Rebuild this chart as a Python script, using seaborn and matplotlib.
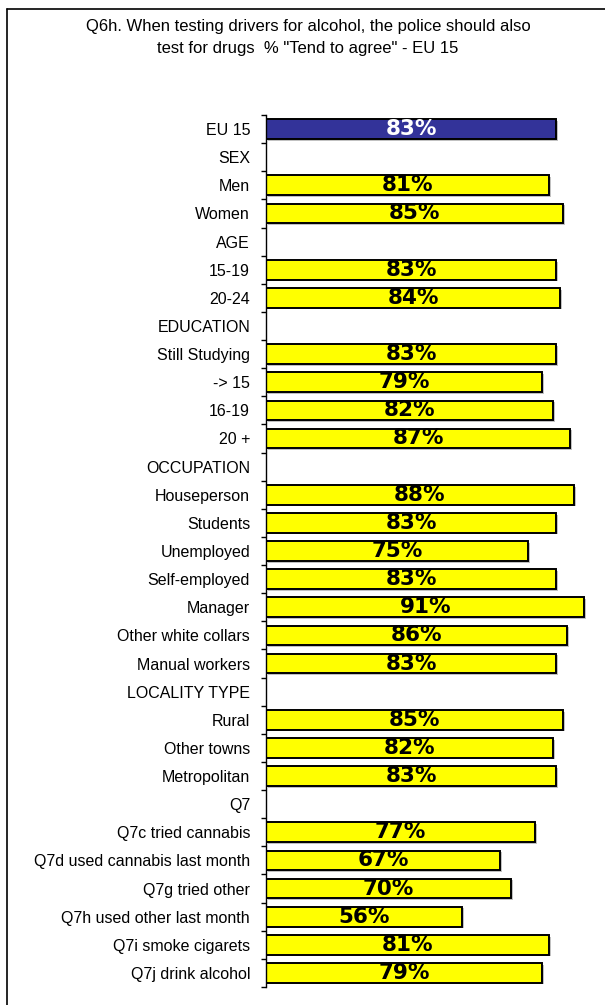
import numpy as np
import pandas as pd
import matplotlib
matplotlib.use("Agg")
import matplotlib.pyplot as plt
import matplotlib.patheffects as pe
from matplotlib.lines import Line2D
import seaborn as sns

categories = ["EU 15", "SEX", "Men", "Women", "AGE", "15-19", "20-24",
              "EDUCATION", "Still Studying", "-> 15", "16-19", "20 +",
              "OCCUPATION", "Houseperson", "Students", "Unemployed",
              "Self-employed", "Manager", "Other white collars",
              "Manual workers", "LOCALITY TYPE", "Rural", "Other towns",
              "Metropolitan", "Q7", "Q7c tried cannabis",
              "Q7d used cannabis last month", "Q7g tried other",
              "Q7h used other last month", "Q7i smoke cigarets",
              "Q7j drink alcohol"]
values = [83, np.nan, 81, 85, np.nan, 83, 84,
          np.nan, 83, 79, 82, 87,
          np.nan, 88, 83, 75, 83, 91, 86, 83,
          np.nan, 85, 82, 83,
          np.nan, 77, 67, 70, 56, 81, 79]
groups = ["total"] + ["sub"] * (len(categories) - 1)
title_lines = ["Q6h. When testing drivers for alcohol, the police should also",
               "test for drugs  % \"Tend to agree\" - EU 15"]

df = pd.DataFrame({"cat": categories, "val": values, "grp": groups})

sns.set_style("white")
plt.rcParams["font.family"] = ["Liberation Sans", "DejaVu Sans"]
plt.rcParams["text.color"] = "black"
plt.rcParams["ytick.color"] = "black"
plt.rcParams["ytick.labelcolor"] = "black"

W, H = 605, 1005
fig = plt.figure(figsize=(W / 100, H / 100), dpi=100)
ax = fig.add_axes([266 / W, 1 - 987 / H, 332.5 / W, (987 - 115) / H])

sns.barplot(data=df, x="val", y="cat", hue="grp", order=categories,
            palette={"total": "#333399", "sub": "#FFFF00"}, dodge=False,
            saturation=1, width=0.7, edgecolor="black", linewidth=1.4,
            legend=False, orient="h", ax=ax)

for p in ax.patches:
    p.set_path_effects([pe.SimplePatchShadow(offset=(1.2, -1.2), shadow_rgbFace="0.6", alpha=0.6),
                        pe.Normal()])

for i, (v, g) in enumerate(zip(values, groups)):
    if np.isnan(v):
        continue
    ax.text(v / 2, i, f"{v:.0f}%", ha="center", va="center",
            fontsize=15.5, fontweight="bold", family="DejaVu Sans",
            color="white" if g == "total" else "black")

ax.set_xlim(0, 95)
ax.set_ylim(len(categories) - 0.5, -0.5)
ax.set_xlabel("")
ax.set_ylabel("")
ax.set_xticks([])
for s in ["top", "right", "bottom"]:
    ax.spines[s].set_visible(False)
ax.spines["left"].set_color("black")
ax.spines["left"].set_linewidth(1.0)
ax.tick_params(axis="y", which="major", length=0, pad=11.5, labelsize=11.5, colors="black")
ax.set_yticks(np.arange(-0.5, len(categories), 1.0), minor=True)
ax.tick_params(axis="y", which="minor", length=3.5, width=1.0, direction="out", color="black", left=True)
ax.grid(False)

fig.text(308 / W, 1 - 26 / H, title_lines[0], ha="center", va="center", fontsize=12, color="black")
fig.text(308 / W, 1 - 48 / H, title_lines[1], ha="center", va="center", fontsize=12, color="black")

fig.add_artist(Line2D([7 / W, 7 / W], [0, 1 - 9 / H], color="black", linewidth=1.2, transform=fig.transFigure))
fig.add_artist(Line2D([7 / W, 1], [1 - 9 / H, 1 - 9 / H], color="black", linewidth=1.2, transform=fig.transFigure))

fig.savefig("out.png", dpi=100)
